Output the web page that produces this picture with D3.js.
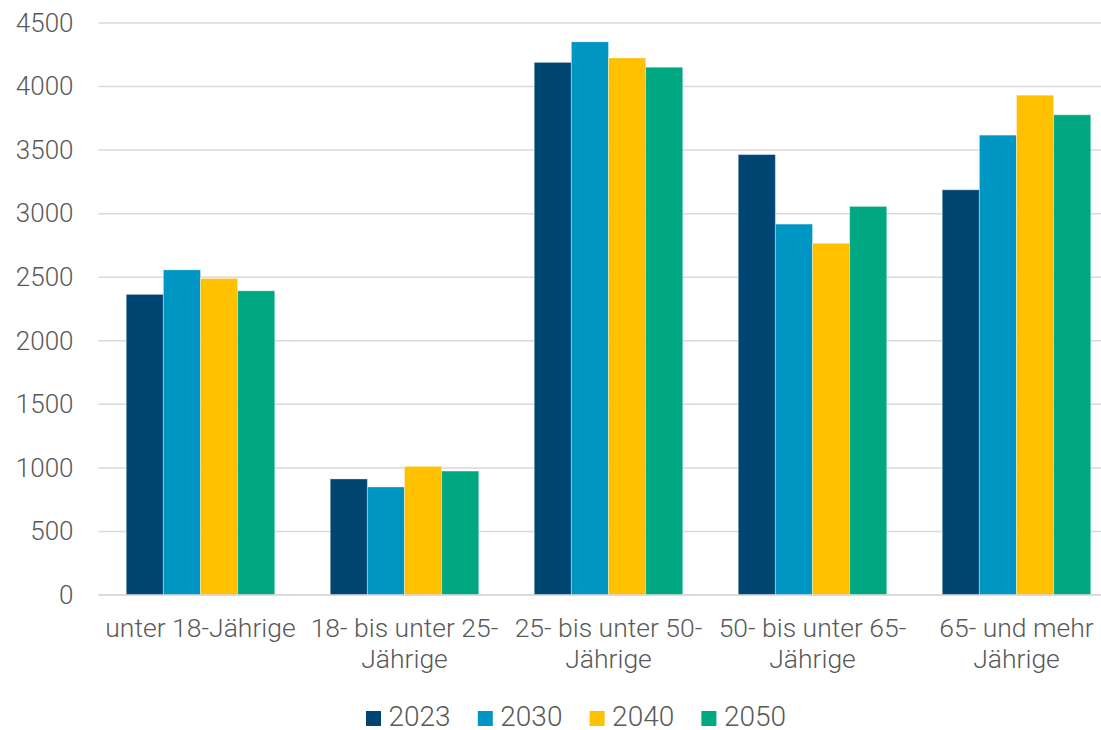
<!DOCTYPE html>
<html><head><meta charset="utf-8">
<script src="https://cdn.jsdelivr.net/npm/d3@7"></script>
<style>body{margin:0;background:#fff}svg{display:block}text{font-family:Roboto,sans-serif;font-weight:300;fill:#595959}</style>
</head><body><svg id="c" width="1101" height="730"></svg>
<script>
const categories = [["unter 18-Jährige"],["18- bis unter 25-","Jährige"],["25- bis unter 50-","Jährige"],["50- bis unter 65-","Jährige"],["65- und mehr","Jährige"]];
const years = ["2023","2030","2040","2050"];
const colors = ["#004673","#0096c3","#ffc000","#00a882"];
const v2023 = [2365, 913, 4190, 3465, 3188];
const v2030 = [2558, 850, 4352, 2918, 3618];
const v2040 = [2490, 1012, 4225, 2767, 3932];
const v2050 = [2393, 975, 4152, 3057, 3778];
const series = [v2023, v2030, v2040, v2050];
const yTicks = [0,500,1000,1500,2000,2500,3000,3500,4000,4500];

const W = 1101;
const svg = d3.select("#c");
const m = {l:98.5, t:23, b:595};
const step = 204;
const x = d3.scaleBand().domain(d3.range(categories.length)).range([m.l, m.l + step*categories.length]).paddingInner(0.272).paddingOuter(0.136);
const xs = d3.scaleBand().domain(d3.range(years.length)).range([0, x.bandwidth()]);
const y = d3.scaleLinear().domain([0,4500]).range([m.b, m.t]);

// gridlines
svg.append("g").selectAll("line").data(yTicks).join("line")
  .attr("x1", m.l).attr("x2", W).attr("y1", d=>y(d)).attr("y2", d=>y(d))
  .attr("stroke", "#d9d9d9").attr("stroke-width", 1.5);

// y axis labels
const ya = svg.append("g").attr("transform",`translate(${m.l},0)`)
  .call(d3.axisLeft(y).tickValues(yTicks).tickFormat(d3.format("d")).tickSize(0).tickPadding(25));
ya.select(".domain").remove();
ya.selectAll("text").attr("font-size", 26).attr("fill","#595959").attr("font-family","Roboto").attr("font-weight",300);

// bars
series.forEach((vals, si) => {
  svg.append("g").selectAll("rect").data(vals).join("rect")
    .attr("x", (d,i)=>x(i)+xs(si))
    .attr("width", xs.bandwidth())
    .attr("y", d=>y(d))
    .attr("height", d=>y(0)-y(d))
    .attr("fill", colors[si])
    .attr("stroke", "rgba(255,255,255,0.35)").attr("stroke-width", 1);
});

// baseline
svg.append("line").attr("x1", m.l).attr("x2", W).attr("y1", y(0)).attr("y2", y(0))
  .attr("stroke","#d9d9d9").attr("stroke-width",1.5);

// category labels
const cl = svg.append("g");
categories.forEach((lines,i)=>{
  const cx = x(i)+x.bandwidth()/2;
  const t = cl.append("text").attr("text-anchor","middle").attr("font-size",26.5)
    .attr("x", cx).attr("y", 637);
  lines.forEach((ln,j)=>t.append("tspan").attr("x", cx).attr("dy", j===0?0:31).text(ln));
});

// legend
const lg = svg.append("g");
years.forEach((yr,i)=>{
  const lx = 366 + i*111.8;
  lg.append("rect").attr("x", lx).attr("y", 711).attr("width",15).attr("height",15).attr("fill",colors[i]);
  lg.append("text").attr("x", lx+22.5).attr("y", 726).attr("font-size",28).text(yr);
});
</script></body></html>
